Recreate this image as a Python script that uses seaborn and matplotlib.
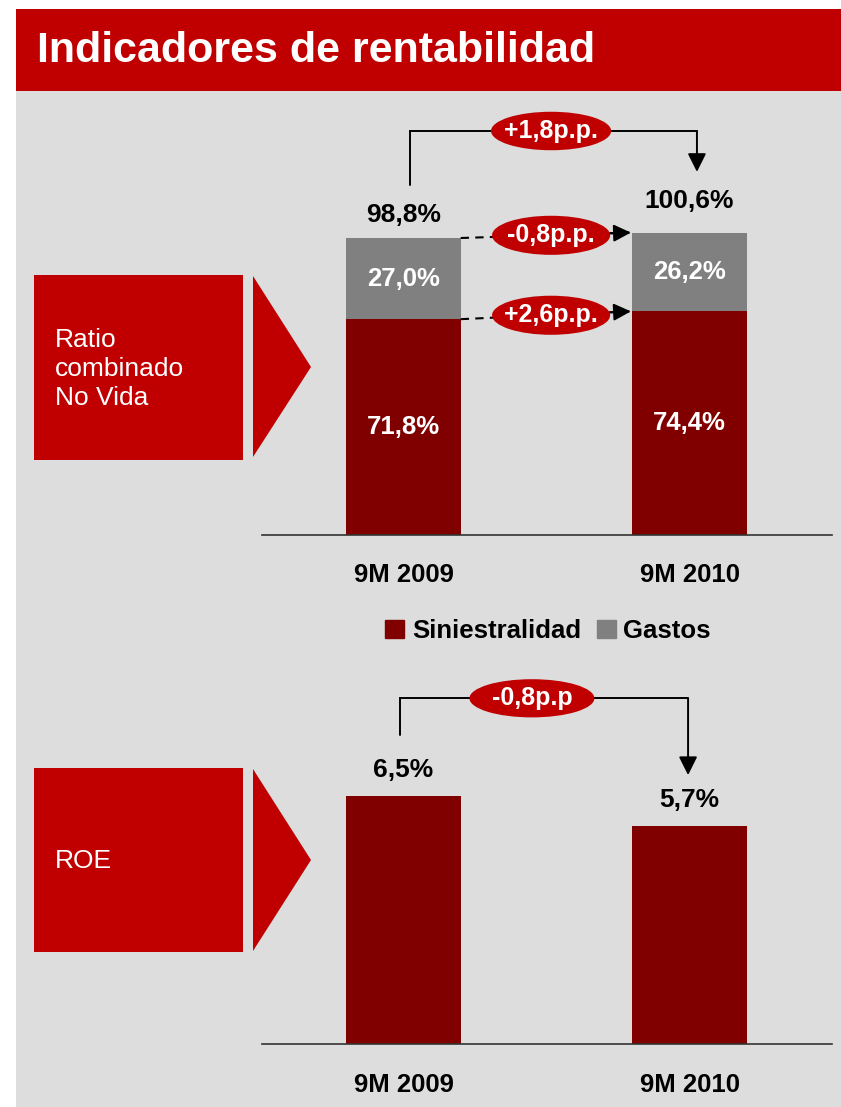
import numpy as np
import pandas as pd
import matplotlib.pyplot as plt
import seaborn as sns
from matplotlib import font_manager
from matplotlib.patches import Rectangle, Polygon, Ellipse, Patch

# data
periods = ["9M 2009", "9M 2010"]
siniestralidad = [71.8, 74.4]
gastos = [27.0, 26.2]
ratio_total = [98.8, 100.6]
roe = [6.5, 5.7]
ratio_change_total = "+1,8p.p."
ratio_change_gastos = "-0,8p.p."
ratio_change_sini = "+2,6p.p."
roe_change = "-0,8p.p"

RED = "#C00000"
DARKRED = "#800000"
GRAY = "#808080"
BG = "#DDDDDD"

sns.set_theme(style="white")
plt.rcParams['font.family'] = ['Liberation Sans', 'DejaVu Sans']
plt.rcParams['text.color'] = 'black'
installed = {f.name for f in font_manager.fontManager.ttflist}
narrow = 'Liberation Sans Narrow' if 'Liberation Sans Narrow' in installed else 'Liberation Sans'

W, H = 841, 1107
fig = plt.figure(figsize=(W / 100, H / 100), dpi=100)
fig.patch.set_facecolor("white")


def rect(x0, y0, x1, y1, color, z=-2):
    fig.add_artist(Rectangle((x0 / W, 1 - y1 / H), (x1 - x0) / W, (y1 - y0) / H,
                             transform=fig.transFigure, color=color, zorder=z, lw=0))


def tri(x0, y0, x1, ytip, y1, color):
    pts = [(x0 / W, 1 - y0 / H), (x1 / W, 1 - ytip / H), (x0 / W, 1 - y1 / H)]
    fig.add_artist(Polygon(pts, closed=True, transform=fig.transFigure,
                           color=color, zorder=-1, lw=0))


def pct(v):
    return f"{v:.1f}%".replace(".", ",")


# background, title band, side boxes
rect(16, 91, W, H, BG)
rect(16, 9, W, 91, RED)
fig.text(37 / W, 1 - 51 / H, "Indicadores de rentabilidad", color="white",
         fontsize=31, fontweight="bold", family=[narrow, 'DejaVu Sans'],
         ha="left", va="center")

rect(34, 275, 243, 460, RED, z=-1)
tri(253, 276, 311, 367, 457, RED)
fig.text(55 / W, 1 - 369 / H, "Ratio\ncombinado\nNo Vida", color="white",
         fontsize=19, ha="left", va="center", linespacing=1.26)

rect(34, 768, 243, 952, RED, z=-1)
tri(253, 769, 311, 860, 951, RED)
fig.text(55 / W, 1 - 861 / H, "ROE", color="white", fontsize=19,
         ha="left", va="center")

xlim = (-141.5 / 286, 1 + 142.5 / 286)
LBL = 18.5


def style_axis(ax):
    ax.set_facecolor("none")
    for s in ["top", "left", "right"]:
        ax.spines[s].set_visible(False)
    ax.spines["bottom"].set_color("#333333")
    ax.spines["bottom"].set_linewidth(1.2)
    ax.set_yticks([])
    ax.set_xlabel("")
    ax.set_ylabel("")
    ax.set_xlim(*xlim)


def bubble(ax, x, y, w, h, text):
    ax.add_patch(Ellipse((x, y), w, h, color=RED, zorder=6, clip_on=False, lw=0))
    ax.text(x, y, text, color="white", fontsize=18, fontweight="bold",
            ha="center", va="center", zorder=7)


# ---- Ratio combinado ----
ax1 = fig.add_axes([262 / W, 1 - 535 / H, 570 / W, 435 / H])
sns.barplot(x=periods, y=ratio_total, color=GRAY, saturation=1, width=0.4,
            linewidth=0, ax=ax1)
sns.barplot(x=periods, y=siniestralidad, color=DARKRED, saturation=1, width=0.4,
            linewidth=0, ax=ax1)
style_axis(ax1)
ax1.set_ylim(0, 435 / 3.006)
ax1.set_xticks([0, 1])
ax1.set_xticklabels(periods, fontsize=LBL, fontweight="bold", color="black")
ax1.tick_params(axis="x", length=0, pad=20)

for i in range(2):
    ax1.text(i, siniestralidad[i] / 2, pct(siniestralidad[i]), color="white",
             fontsize=LBL, fontweight="bold", ha="center", va="center")
    ax1.text(i, siniestralidad[i] + gastos[i] / 2, pct(gastos[i]), color="white",
             fontsize=LBL, fontweight="bold", ha="center", va="center")
ax1.text(0, ratio_total[0] + 7.7, pct(ratio_total[0]), fontsize=LBL + 0.5,
         fontweight="bold", ha="center", va="center", color="black")
ax1.text(1, ratio_total[1] + 10.6, pct(ratio_total[1]), fontsize=LBL + 0.5,
         fontweight="bold", ha="center", va="center", color="black")

# bracket total
top = max(ratio_total) + 33.8
ax1.plot([0.023, 0.023, 1.026], [ratio_total[0] + 17.6, top, top],
         color="black", lw=1.4, clip_on=False, solid_joinstyle="miter")
ax1.annotate("", xy=(1.026, ratio_total[1] + 20.2), xytext=(1.026, top),
             arrowprops=dict(arrowstyle="-|>", color="black", lw=1.4,
                             mutation_scale=28, shrinkA=0, shrinkB=0),
             annotation_clip=False)
bubble(ax1, 0.516, top, 0.42, 12.8, ratio_change_total)

# dashed arrows between segments
x_start, x_end = 0.2, 0.795
for y0, y1, txt in [(ratio_total[0], ratio_total[1], ratio_change_gastos),
                    (siniestralidad[0], siniestralidad[1], ratio_change_sini)]:
    ax1.plot([x_start, x_end], [y0, y1], color="black", lw=1.5,
             ls=(0, (4, 3)), clip_on=False)
    xh = x_end - 0.07
    yh = y0 + (y1 - y0) * (xh - x_start) / (x_end - x_start)
    ax1.annotate("", xy=(x_end, y1), xytext=(xh, yh),
                 arrowprops=dict(arrowstyle="-|>", color="black", lw=1.5,
                                 mutation_scale=26, shrinkA=0, shrinkB=0),
                 annotation_clip=False)
    bubble(ax1, 0.516, (y0 + y1) / 2, 0.413, 13.0, txt)

# legend
leg = fig.legend(handles=[Patch(color=DARKRED, label="Siniestralidad"),
                          Patch(color=GRAY, label="Gastos")],
                 loc="center", bbox_to_anchor=(548 / W, 1 - 631 / H), ncol=2,
                 frameon=False, prop=dict(size=18.5, weight="bold"),
                 handlelength=0.75, handleheight=0.75, handletextpad=0.3,
                 columnspacing=0.6)
for t in leg.get_texts():
    t.set_color("black")

# ---- ROE ----
ax2 = fig.add_axes([262 / W, 1 - 1044 / H, 570 / W, 384 / H])
sns.barplot(x=periods, y=roe, color=DARKRED, saturation=1, width=0.4,
            linewidth=0, ax=ax2)
style_axis(ax2)
ax2.set_ylim(0, 384 / 38.2)
ax2.set_xticks([0, 1])
ax2.set_xticklabels(periods, fontsize=LBL, fontweight="bold", color="black",
                    family=[narrow, 'DejaVu Sans'])
ax2.tick_params(axis="x", length=0, pad=21)

for i in range(2):
    ax2.text(i, roe[i] + 0.68, pct(roe[i]), fontsize=LBL + 0.5, fontweight="bold",
             ha="center", va="center", color="black")

top2 = 9.05
ax2.plot([-0.012, -0.012, 0.995], [roe[0] + 1.59, top2, top2],
         color="black", lw=1.4, clip_on=False, solid_joinstyle="miter")
ax2.annotate("", xy=(0.995, roe[1] + 1.34), xytext=(0.995, top2),
             arrowprops=dict(arrowstyle="-|>", color="black", lw=1.4,
                             mutation_scale=28, shrinkA=0, shrinkB=0),
             annotation_clip=False)
bubble(ax2, 0.449, top2, 0.437, 1.0, roe_change)

fig.savefig("out.png", dpi=100)
